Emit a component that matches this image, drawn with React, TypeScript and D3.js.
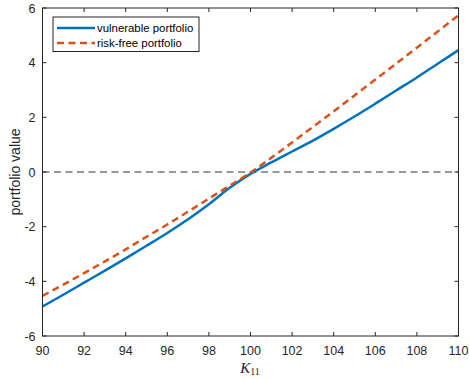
import React from "react";
import * as d3 from "d3";

const kValues = [90, 91, 92, 93, 94, 95, 96, 97, 98, 99, 100, 101, 102, 103, 104, 105, 106, 107, 108, 109, 110];
const vulnerable = [-4.92, -4.49, -4.05, -3.61, -3.16, -2.7, -2.23, -1.73, -1.18, -0.58, -0.07, 0.35, 0.75, 1.15, 1.58, 2.03, 2.5, 2.98, 3.46, 3.96, 4.46];
const riskFree = [-4.53, -4.12, -3.7, -3.27, -2.83, -2.37, -1.92, -1.45, -0.97, -0.5, -0.02, 0.52, 1.08, 1.65, 2.22, 2.8, 3.38, 3.96, 4.55, 5.14, 5.73];
const xTicks = [90, 92, 94, 96, 98, 100, 102, 104, 106, 108, 110];
const yTicks = [-6, -4, -2, 0, 2, 4, 6];
const seriesNames = ["vulnerable portfolio", "risk-free portfolio"];

const W = 469;
const H = 379;
const left = 42.5;
const right = 458.5;
const top = 8;
const bottom = 336;
const axisColor = "#262626";
const blue = "#0072BD";
const orange = "#D95319";

export default function App() {
  const x = d3.scaleLinear().domain([90, 110]).range([left, right]);
  const y = d3.scaleLinear().domain([-6, 6]).range([bottom, top]);
  const line = d3
    .line<number>()
    .x((_, i) => x(kValues[i]))
    .y((d) => y(d))
    .curve(d3.curveMonotoneX);

  const font = "'Liberation Sans', Arial, Helvetica, sans-serif";

  return (
    <svg
      width={W}
      height={H}
      style={{ position: "absolute", left: 0, top: 0, background: "#fff" }}
      fontFamily={font}
    >
      <rect x={0} y={0} width={W} height={H} fill="#fff" />
      {/* zero line */}
      <line x1={x(90)} x2={x(110)} y1={y(0)} y2={y(0)} stroke="#333" strokeWidth={1} strokeDasharray="7,4.5" />
      <path d={line(vulnerable) || ""} fill="none" stroke={blue} strokeWidth={2.5} />
      <path d={line(riskFree) || ""} fill="none" stroke={orange} strokeWidth={2.5} strokeDasharray="7,4.5" />
      {/* box */}
      <rect x={left} y={top} width={right - left} height={bottom - top} fill="none" stroke={axisColor} strokeWidth={1} />
      {/* x ticks */}
      {xTicks.map((t) => (
        <g key={"x" + t}>
          <line x1={x(t)} x2={x(t)} y1={bottom} y2={bottom - 4} stroke={axisColor} />
          <line x1={x(t)} x2={x(t)} y1={top} y2={top + 4} stroke={axisColor} />
          <text x={x(t)} y={bottom + 19} textAnchor="middle" fontSize={12.5} fill={axisColor}>
            {t}
          </text>
        </g>
      ))}
      {yTicks.map((t) => (
        <g key={"y" + t}>
          <line x1={left} x2={left + 4} y1={y(t)} y2={y(t)} stroke={axisColor} />
          <line x1={right} x2={right - 4} y1={y(t)} y2={y(t)} stroke={axisColor} />
          <text x={left - 7} y={y(t) + 4.5} textAnchor="end" fontSize={12.5} fill={axisColor}>
            {t}
          </text>
        </g>
      ))}
      {/* axis labels */}
      <text
        x={250}
        y={373}
        textAnchor="middle"
        fontFamily="'Liberation Serif', 'Times New Roman', serif"
        fontStyle="italic"
        fontSize={15}
        fill={axisColor}
      >
        K
        <tspan fontStyle="normal" fontSize={10} dy={2}>
          11
        </tspan>
      </text>
      <text
        transform={`translate(20,${y(0)}) rotate(-90)`}
        textAnchor="middle"
        fontSize={14}
        fill={axisColor}
      >
        portfolio value
      </text>
      {/* legend */}
      <rect x={53} y={17} width={146} height={34.5} fill="#fff" stroke={axisColor} strokeWidth={1} />
      <line x1={57} x2={95} y1={28} y2={28} stroke={blue} strokeWidth={2.5} />
      <line x1={57} x2={95} y1={43} y2={43} stroke={orange} strokeWidth={2.5} strokeDasharray="7,4.5" />
      <text x={97} y={32} fontSize={11.4} fill="#000">
        {seriesNames[0]}
      </text>
      <text x={97} y={47} fontSize={11.4} fill="#000">
        {seriesNames[1]}
      </text>
    </svg>
  );
}
